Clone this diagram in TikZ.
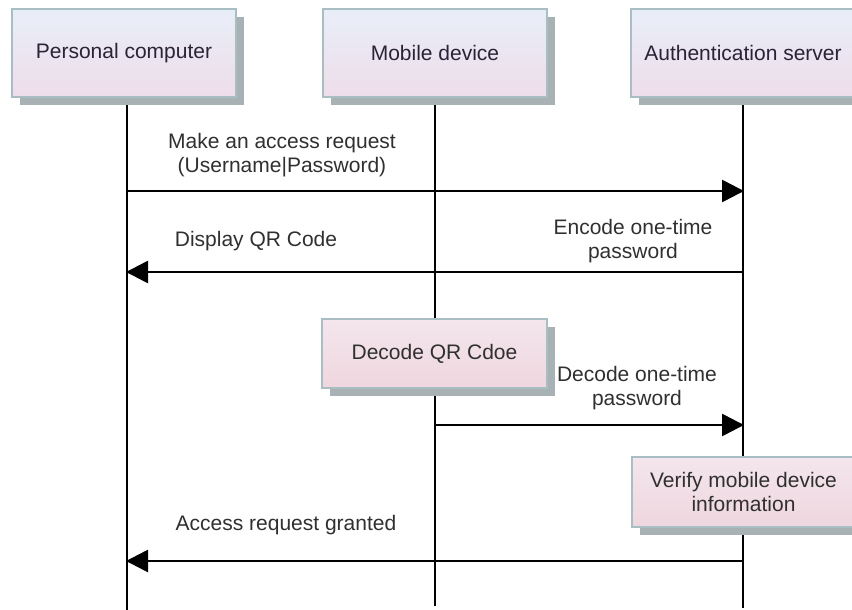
\documentclass[tikz,border=0pt]{standalone}
\usepackage{fontspec}
\setmainfont{Liberation Sans}
\usetikzlibrary{arrows.meta,shadows}
\definecolor{boxedge}{HTML}{A9BEC2}
\definecolor{shadowc}{HTML}{A8B2B4}
\definecolor{headtop}{HTML}{E8EEF8}
\definecolor{headbot}{HTML}{EEDDEA}
\definecolor{acttop}{HTML}{F3E6EC}
\definecolor{actbot}{HTML}{EFD6DF}
\definecolor{txt}{HTML}{303030}
\definecolor{headtxt}{HTML}{2A2236}
\tikzset{
  basebox/.style={draw=boxedge, line width=1.8pt, inner sep=0pt, align=center,
    font=\fontsize{21}{24}\selectfont,
    drop shadow={shadow xshift=8pt, shadow yshift=-8pt, fill=shadowc, opacity=1}},
  headbox/.style={basebox, minimum width=224pt, minimum height=88pt,
    top color=headtop, bottom color=headbot, text=headtxt},
  actbox/.style={basebox, minimum height=70pt,
    top color=acttop, bottom color=actbot, text=txt},
  lifeline/.style={line width=2.6pt, black},
  msg/.style={line width=2.6pt, black, -{Triangle[length=22pt,width=22pt]}, shorten >=-1pt},
  lbl/.style={font=\fontsize{21}{24}\selectfont, text=txt, align=center, inner sep=0pt}
}
\begin{document}
\begin{tikzpicture}[x=1pt,y=-1pt]
\useasboundingbox[fill=white] (0,0) rectangle (852,610);
% lifeline ends
\coordinate (pcend) at (127,610);
\coordinate (mdend) at (435,606);
\coordinate (asend) at (743,608);
% message anchor points
\coordinate (m1a) at (127,191);
\coordinate (m1b) at (743,191);
\coordinate (m2a) at (743,272);
\coordinate (m2b) at (127,272);
\coordinate (m3a) at (435,425);
\coordinate (m3b) at (743,425);
\coordinate (m4a) at (743,561);
\coordinate (m4b) at (127,561);
% lifelines
\coordinate (pctop) at (127,90);
\coordinate (mdtop) at (435,90);
\coordinate (astop) at (743,90);
\draw[lifeline] (pctop) -- (pcend);
\draw[lifeline] (mdtop) -- (mdend);
\draw[lifeline] (astop) -- (asend);
% header boxes
\node[headbox] (pc) at (124,53) {Personal computer};
\node[headbox] (md) at (435,53) {Mobile device};
\node[headbox] (as) at (743,53) {Authentication server};
% activity boxes
\node[actbox, minimum width=225pt, minimum height=69pt] (dec) at (434.5,353.5) {Decode QR Cdoe};
\node[actbox, minimum width=223pt] (ver) at (743.5,492) {Verify mobile device\\information};
% messages
\draw[msg] (m1a) -- (m1b);
\draw[msg] (m2a) -- (m2b);
\draw[msg] (m3a) -- (m3b);
\draw[msg] (m4a) -- (m4b);
% labels
\node[lbl] (l1) at (282,155) {Make an access request\\(Username|Password)};
\node[lbl] (l2) at (256,241) {Display QR Code};
\node[lbl] (l3) at (633,241) {Encode one-time\\password};
\node[lbl] (l4) at (637,388) {Decode one-time\\password};
\node[lbl] (l5) at (286,525) {Access request granted};
\end{tikzpicture}
\end{document}
